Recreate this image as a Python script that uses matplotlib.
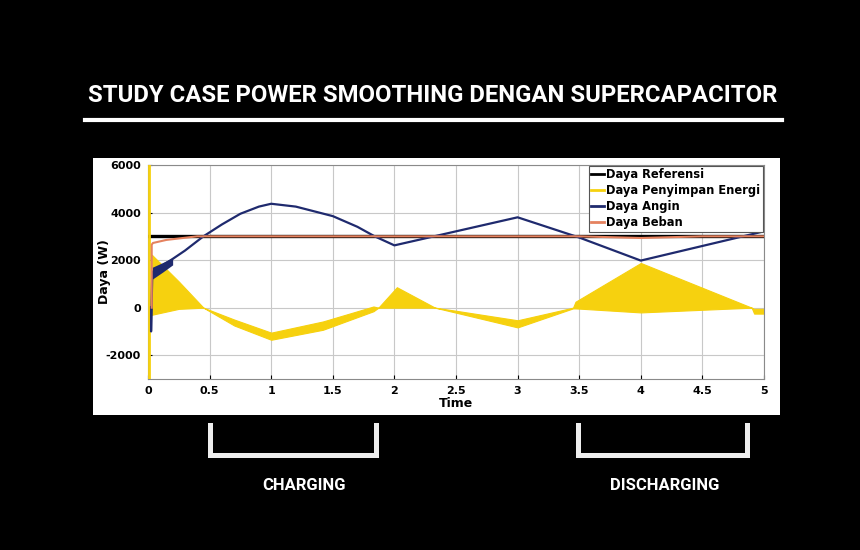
import numpy as np
import matplotlib.pyplot as plt
from matplotlib.patches import Rectangle
from matplotlib.lines import Line2D

plt.rcParams['axes.unicode_minus'] = False

# data
t_ref = [0, 5]
p_ref = [3000, 3000]

t_angin = [0.025, 0.025, 0.035, 0.2, 0.3, 0.45, 0.6, 0.75, 0.9, 1.0, 1.2, 1.5, 1.7, 1.84, 2.0, 3.0, 3.5, 4.0, 5.0]
p_angin = [0, -1000, 1500, 2050, 2400, 3000, 3500, 3950, 4250, 4370, 4250, 3850, 3400, 3000, 2620, 3800, 2950, 1980, 3210]
# osilasi awal daya angin
t_angin_osc = [0.035, 0.12, 0.2]
angin_atas = [1700, 1900, 2100]
angin_bawah = [1200, 1500, 1800]

t_beban = [0.03, 0.03, 0.04, 0.15, 0.4, 3.5, 4.0, 4.5, 5.0]
p_beban = [0, 2650, 2720, 2850, 3000, 3000, 2930, 3000, 3000]

t_spike = [0.008, 0.008]
p_spike = [-3000, 6000]
t_simpan = [0.03, 0.25, 0.45, 0.7, 1.0, 1.42, 1.83, 1.87, 2.02, 2.33, 2.5, 3.0, 3.45, 3.47, 4.0, 4.9, 4.92, 5.0]
simpan_atas = [2230, 1100, 0, -500, -1050, -580, 50, 0, 860, 0, -130, -530, 0, 250, 1880, 0, -50, -50]
simpan_bawah = [-300, -50, 0, -750, -1350, -930, -150, 0, 0, 0, -210, -830, -30, -30, -200, 0, -250, -250]

xticks = [0, 0.5, 1, 1.5, 2, 2.5, 3, 3.5, 4, 4.5, 5]
xticklabels = ['0', '0.5', '1', '1.5', '2', '2.5', '3', '3.5', '4', '4.5', '5']
yticks = [-2000, 0, 2000, 4000, 6000]

judul = 'STUDY CASE POWER SMOOTHING DENGAN SUPERCAPACITOR'
label_kiri = 'CHARGING'
label_kanan = 'DISCHARGING'

kuning = '#f6d10f'
biru = '#1f2a6e'
oranye = '#e5825f'
font_judul = ['Roboto', 'DejaVu Sans']

fig = plt.figure(figsize=(8.6, 5.5), dpi=100, facecolor='black')

# panel putih di belakang grafik
fig.patches.append(Rectangle((93/860, 1-415/550), 687/860, 257/550, transform=fig.transFigure,
                             facecolor='white', edgecolor='none', zorder=-5))

ax = fig.add_axes([148/860, 1-379/550, 616/860, 214/550])
ax.set_facecolor('white')

ax.plot(t_ref, p_ref, color='black', lw=2.4, label='Daya Referensi', zorder=3)
ax.plot(t_spike, p_spike, color=kuning, lw=2, label='Daya Penyimpan Energi', zorder=3)
ax.fill_between(t_simpan, simpan_bawah, simpan_atas, color=kuning, lw=0.8, edgecolor=kuning, zorder=2)
ax.plot(t_angin, p_angin, color=biru, lw=1.6, label='Daya Angin', zorder=4)
ax.fill_between(t_angin_osc, angin_bawah, angin_atas, color=biru, lw=0, zorder=4)
ax.plot(t_beban, p_beban, color=oranye, lw=1.5, label='Daya Beban', zorder=5)

ax.set_xlim(0, 5)
ax.set_ylim(-3000, 6000)
ax.set_xticks(xticks)
ax.set_xticklabels(xticklabels)
ax.set_yticks(yticks)
ax.grid(True, color='#c8c8c8', lw=0.8)
ax.set_axisbelow(True)
ax.tick_params(direction='in', length=3, labelsize=8, colors='black', pad=5)
for lab in ax.get_xticklabels() + ax.get_yticklabels():
    lab.set_fontweight('bold')
for s in ax.spines.values():
    s.set_color('#8a8a8a')
    s.set_linewidth(0.8)
ax.set_xlabel('Time', fontsize=9, fontweight='bold', labelpad=1)
ax.set_ylabel('Daya (W)', fontsize=9, fontweight='bold')
ax.yaxis.set_label_coords(-0.060, 0.5)

leg = ax.legend(loc='upper right', prop={'weight': 'bold', 'size': 8.3}, frameon=True,
                fancybox=False, borderpad=0.25, labelspacing=0.25, handlelength=1.1,
                handletextpad=0.2, borderaxespad=0.05)
leg.get_frame().set_edgecolor('#555555')
leg.get_frame().set_linewidth(0.8)
leg.get_frame().set_alpha(1)
for h in leg.get_lines():
    h.set_linewidth(2)

# judul + garis bawah
fig.text(433/860, 1-95/550, judul, color='white', fontsize=17.2, fontweight='bold',
         family=font_judul, ha='center', va='center')
fig.add_artist(Line2D([85/860, 782/860], [1-120/550, 1-120/550], color='white', lw=3))

# kurung charging / discharging
for x0, x1 in [(210, 376), (578, 747)]:
    xs = [x0/860, x0/860, x1/860, x1/860]
    ys = [1-425/550, 1-455/550, 1-455/550, 1-425/550]
    fig.add_artist(Line2D(xs, ys, color='#eeeeee', lw=3.6, solid_joinstyle='miter'))
fig.text(304/860, 1-485/550, label_kiri, color='white', fontsize=12, fontweight='bold',
         family=font_judul, ha='center', va='center')
fig.text(665/860, 1-485/550, label_kanan, color='white', fontsize=12, fontweight='bold',
         family=font_judul, ha='center', va='center')

fig.savefig('out.png', dpi=100, facecolor='black')
